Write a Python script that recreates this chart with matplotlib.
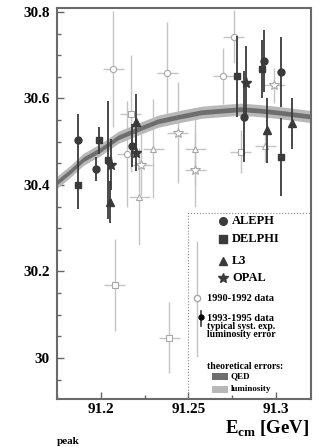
import matplotlib
matplotlib.use('Agg')
from matplotlib import pyplot as plt
from matplotlib.ticker import MultipleLocator

plt.rcParams['font.family'] = ['Liberation Serif', 'DejaVu Serif']
plt.rcParams['font.weight'] = 'bold'
plt.rcParams['mathtext.fontset'] = 'custom'
plt.rcParams['mathtext.rm'] = 'Liberation Serif:bold'
plt.rcParams['mathtext.bf'] = 'Liberation Serif:bold'

# theory band centre
band_x = [91.175, 91.1825, 91.19, 91.20, 91.21, 91.2225, 91.2325, 91.245,
          91.2575, 91.27, 91.28, 91.29, 91.30, 91.31, 91.32]
band_y = [30.406, 30.431, 30.459, 30.482, 30.510, 30.531, 30.547, 30.558,
          30.568, 30.572, 30.575, 30.572, 30.568, 30.563, 30.558]
qed_err = 0.0055
lum_err = 0.014

# 1993-1995 data
aleph_x = [91.187, 91.197, 91.218, 91.282, 91.293, 91.303]
aleph_y = [30.503, 30.436, 30.491, 30.558, 30.686, 30.662]
aleph_err = [0.062, 0.028, 0.05, 0.106, 0.072, 0.081]

delphi_x = [91.187, 91.199, 91.204, 91.278, 91.292, 91.303]
delphi_y = [30.399, 30.503, 30.457, 30.651, 30.667, 30.464]
delphi_err = [0.054, 0.031, 0.136, 0.093, 0.067, 0.09]

l3_x = [91.205, 91.220, 91.295, 91.309]
l3_y = [30.360, 30.545, 30.526, 30.542]
l3_err = [0.049, 0.065, 0.076, 0.058]

opal_x = [91.206, 91.220, 91.283]
opal_y = [30.447, 30.473, 30.635]
opal_err = [0.058, 0.04, 0.085]

# 1990-1992 data
old_aleph_x = [91.207, 91.238, 91.276, 91.270, 91.215]
old_aleph_y = [30.667, 30.658, 30.743, 30.651, 30.471]
old_aleph_err = [0.134, 0.118, 0.062, 0.065, 0.123]

old_delphi_x = [91.217, 91.208, 91.239, 91.280]
old_delphi_y = [30.565, 30.168, 30.047, 30.477]
old_delphi_err = [0.136, 0.106, 0.083, 0.05]

old_l3_x = [91.230, 91.254, 91.294, 91.222]
old_l3_y = [30.484, 30.484, 30.489, 30.373]
old_l3_err = [0.114, 0.085, 0.035, 0.113]

old_opal_x = [91.244, 91.254, 91.299, 91.223]
old_opal_y = [30.521, 30.434, 30.630, 30.447]
old_opal_err = [0.116, 0.086, 0.04, 0.07]

old_xerr = 0.006

x_ticks = [91.2, 91.25, 91.3]
x_labels = ['91.2', '91.25', '91.3']
y_ticks = [30.0, 30.2, 30.4, 30.6, 30.8]
y_labels = ['30', '30.2', '30.4', '30.6', '30.8']

dark = '#3a3a3a'
light = '#c4c4c4'
light_edge = '#a8a8a8'
band_dark = '#6e6e6e'
band_light = '#b8b8b8'

fig = plt.figure(figsize=(3.2, 4.47), dpi=100)
ax = fig.add_axes([57 / 320, 1 - 399 / 447, 254 / 320, 391 / 447])

# old data, light and open
for x, y, e, m, ms in [(old_aleph_x, old_aleph_y, old_aleph_err, 'o', 4.5),
                       (old_delphi_x, old_delphi_y, old_delphi_err, 's', 4.5),
                       (old_l3_x, old_l3_y, old_l3_err, '^', 5),
                       (old_opal_x, old_opal_y, old_opal_err, '*', 7)]:
    ax.errorbar(x, y, yerr=e, xerr=old_xerr, fmt=m, ms=ms, mfc='white',
                mec=light_edge, mew=0.8, ecolor=light, elinewidth=1.0,
                capsize=0, zorder=1)

# theory band
lo = [v - lum_err for v in band_y]
hi = [v + lum_err for v in band_y]
ax.fill_between(band_x, lo, hi, color=band_light, lw=0, zorder=2)
lo = [v - qed_err for v in band_y]
hi = [v + qed_err for v in band_y]
ax.fill_between(band_x, lo, hi, color=band_dark, lw=0, zorder=2)

# new data, dark and filled
for x, y, e, m, ms in [(aleph_x, aleph_y, aleph_err, 'o', 5),
                       (delphi_x, delphi_y, delphi_err, 's', 5),
                       (l3_x, l3_y, l3_err, '^', 5.5),
                       (opal_x, opal_y, opal_err, '*', 8)]:
    ax.errorbar(x, y, yerr=e, fmt=m, ms=ms, color=dark, ecolor=dark,
                elinewidth=1.3, capsize=0, zorder=3)

ax.set_xlim(91.175, 91.32)
ax.set_ylim(29.905, 30.809)
ax.set_xticks(x_ticks)
ax.set_xticklabels(x_labels)
ax.set_yticks(y_ticks)
ax.set_yticklabels(y_labels)
ax.xaxis.set_minor_locator(MultipleLocator(0.025))
ax.yaxis.set_minor_locator(MultipleLocator(0.05))
ax.tick_params(which='both', direction='in', color='#666666', width=1,
               labelsize=11, pad=5)
ax.tick_params(axis='x', pad=3)
ax.tick_params(which='major', length=5)
ax.tick_params(which='minor', length=3)
for s in ax.spines.values():
    s.set_color('#6a6a6a')
    s.set_linewidth(1.5)

# legend box
ax.plot([91.25, 91.25, 91.32], [29.905, 30.336, 30.336], ls=':', lw=0.8,
        color='#888888', zorder=4)
tx = 91.2749
mx = 91.2697
for m, name, y, ms in [('o', 'ALEPH', 30.316, 5.5), ('s', 'DELPHI', 30.276, 5.5),
                       ('^', 'L3', 30.225, 6), ('*', 'OPAL', 30.184, 7)]:
    ax.plot([mx], [y], marker=m, ms=ms, color=dark, ls='none', zorder=5)
    ax.text(tx, y, name, fontsize=9, va='center', ha='left', zorder=5)

ax.plot([91.2549, 91.2549], [30.004, 30.269], color=light, lw=1, zorder=4)
ax.plot([91.2549], [30.138], marker='o', ms=4.5, mfc='white', mec=light_edge,
        zorder=5)
ax.text(91.2606, 30.138, '1990-1992 data', fontsize=7.5, va='center', zorder=5)
ax.plot([91.2571, 91.2571], [30.073, 30.108], color=dark, lw=1.2, zorder=4)
ax.plot([91.2571], [30.094], marker='o', ms=3.5, color='black', zorder=5)
ax.text(91.2606, 30.090, '1993-1995 data', fontsize=7.5, va='center', zorder=5)
ax.text(91.2609, 30.072, 'typical syst. exp.', fontsize=7, va='center', zorder=5)
ax.text(91.2609, 30.054, 'luminosity error', fontsize=7, va='center', zorder=5)
ax.text(91.2606, 29.98, 'theoretical errors:', fontsize=7, va='center', zorder=5)
ax.fill_between([91.2634, 91.2726], 29.948, 29.964, color=band_dark, lw=0, zorder=5)
ax.fill_between([91.2634, 91.2726], 29.920, 29.936, color=band_light, lw=0, zorder=5)
ax.text(91.2743, 29.957, 'QED', fontsize=6.5, va='center', zorder=5)
ax.text(91.2743, 29.928, 'luminosity', fontsize=6.5, va='center', zorder=5)

# axis label
fig.text(309 / 320, 1 - 434 / 447, r'E$_{\rm cm}$ [GeV]', fontsize=13.5,
         ha='right', va='baseline')
fig.text(57 / 320, 1 - 444 / 447, 'peak', fontsize=8, ha='left', va='baseline')

fig.savefig('out.png', dpi=100)
